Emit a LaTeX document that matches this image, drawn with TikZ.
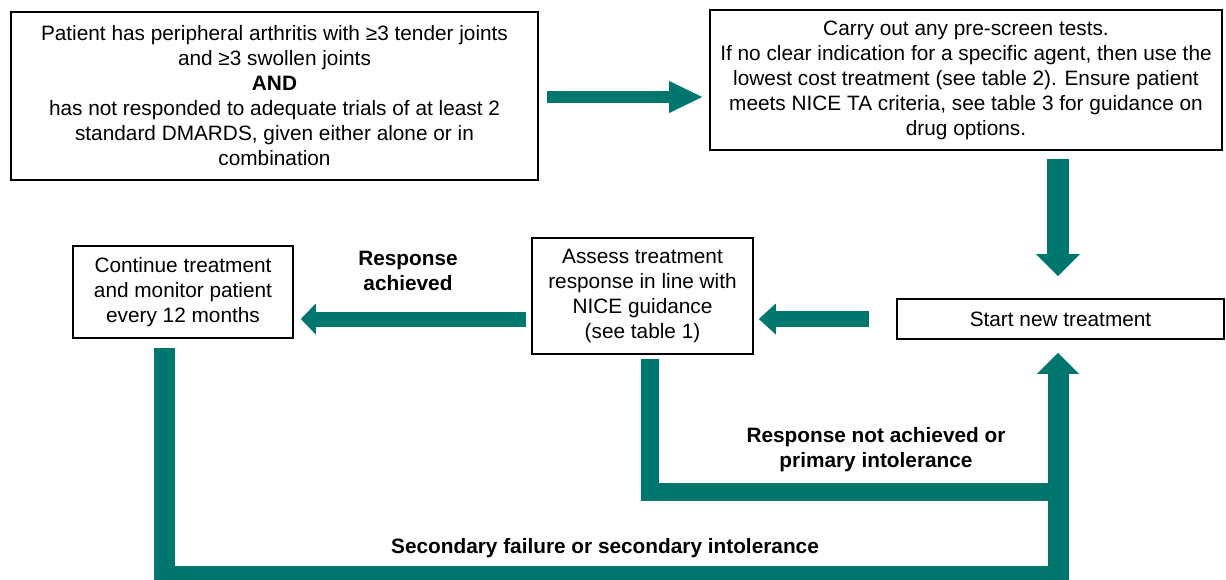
\documentclass[tikz,border=0pt]{standalone}
\usepackage{fontspec}
\setmainfont{Liberation Sans}
\usetikzlibrary{arrows.meta}
\definecolor{nicegreen}{RGB}{0,119,110}
\tikzset{
    box/.style = {draw, line width=1.6pt, align=center, inner sep=2pt, font=\fontsize{20.8}{25}\selectfont},
    lbl/.style = {align=center, font=\fontsize{20.8}{25}\selectfont\bfseries},
    flowbar/.style = {draw=nicegreen, line join=miter},
    flowarrow/.style n args = {3}{draw=nicegreen, line join=miter, line width=#1,
        -{Triangle[width=#2,length=#3,line width=0pt]}}
}
\begin{document}
\begin{tikzpicture}[x=1pt,y=-1pt]
  \useasboundingbox (0,0) rectangle (1226,580);
  \node[box, minimum width=527pt, minimum height=168pt] (1) at (274.5,96)
    {Patient has peripheral arthritis with ≥3 tender joints\\and ≥3 swollen joints\\\textbf{AND}\\has not responded to adequate trials of at least 2\\standard DMARDS, given either alone or in\\combination};
  \node[box, minimum width=512pt, minimum height=140pt] (2) at (966,80)
    {Carry out any pre-screen tests.\\If no clear indication for a specific agent, then use the\\lowest cost treatment (see table 2). Ensure patient\\meets NICE TA criteria, see table 3 for guidance on\\drug options.};
  \node[box, minimum width=327pt, minimum height=40pt] (3) at (1060.5,319) {Start new treatment};
  \node[box, minimum width=221pt, minimum height=116pt] (4) at (642.5,296)
    {Assess treatment\\response in line with\\NICE guidance\\(see table 1)};
  \node[box, minimum width=220pt, minimum height=92pt] (5) at (183,292)
    {Continue treatment\\and monitor patient\\every 12 months};

  \node[lbl] (6) at (408,270.5) {Response\\achieved};
  \node[lbl] (7) at (876,450) {Response not achieved or\\primary intolerance};
  \node[lbl] (8) at (605,548) {Secondary failure or secondary intolerance};

  \coordinate (j1) at (1058,491.5);
  \coordinate (j2) at (1058,576);

  \draw[flowarrow={12pt}{32pt}{33pt}] ([xshift=8pt,yshift=-1pt]1.east) -- ([xshift=-7pt,yshift=-1pt]1.east -| 2.west);
  \draw[flowarrow={22pt}{44pt}{22pt}] ([yshift=-8pt]2.south -| j1) -- ([yshift=22pt]3.north -| j1);
  \draw[flowarrow={16pt}{31pt}{17pt}] ([xshift=-27pt]3.west) -- ([xshift=5pt]3.west -| 4.east);
  \draw[flowarrow={15pt}{31pt}{15pt}] ([xshift=-5pt]4.west |- 3.west) -- ([xshift=7pt]5.east |- 3.west);
  \draw[flowbar, line width=18pt] ([xshift=7pt,yshift=-4pt]4.south) |- (j1);
  \draw[flowarrow={21pt}{42pt}{21pt}] ([xshift=-18.5pt,yshift=-9pt]5.south) |- (j2) -- ([yshift=-13pt]3.south -| j2);
\end{tikzpicture}
\end{document}
